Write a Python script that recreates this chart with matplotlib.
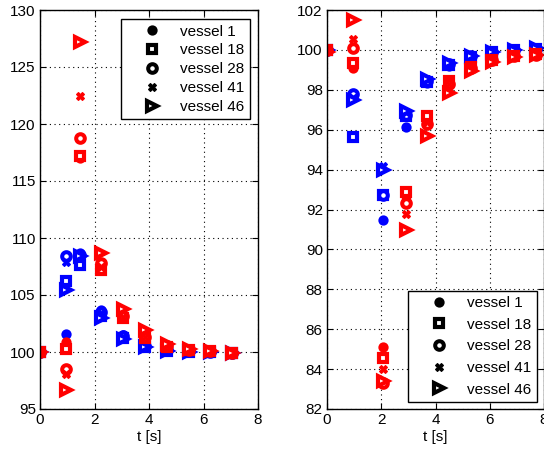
import matplotlib
matplotlib.use("Agg")
import matplotlib.pyplot as plt
from matplotlib.lines import Line2D

plt.rcParams['font.family'] = ['Liberation Sans', 'DejaVu Sans']
plt.rcParams['font.size'] = 11

vessels = ["vessel 1", "vessel 18", "vessel 28", "vessel 41", "vessel 46"]

# ---- left panel ----
t_left = [0.0, 0.95, 1.45, 2.25, 3.05, 3.85, 4.65, 5.45, 6.25, 7.05]
left_blue = {
    "vessel 1":  [100, 101.6, 108.7, 103.7, 101.5, 100.6, 100.2, 100.05, 100.0, 99.95],
    "vessel 18": [100, 106.2, 107.6, 103.2, 101.2, 100.4, 100.1, 100.0, 99.97, 99.95],
    "vessel 28": [100, 108.4, 108.5, 103.5, 101.4, 100.5, 100.2, 100.05, 100.0, 99.95],
    "vessel 41": [100, 107.9, 108.3, 103.4, 101.3, 100.5, 100.15, 100.0, 100.0, 99.95],
    "vessel 46": [100, 105.4, 108.4, 103.0, 101.1, 100.4, 100.1, 100.0, 99.97, 99.95],
}
left_red = {
    "vessel 1":  [100, 100.9, 117.0, 107.6, 103.1, 101.2, 100.45, 100.2, 100.05, 99.95],
    "vessel 18": [100, 100.25, 117.2, 107.2, 103.0, 101.2, 100.45, 100.2, 100.05, 99.95],
    "vessel 28": [100, 98.5, 118.8, 107.8, 103.2, 101.3, 100.5, 100.2, 100.05, 99.95],
    "vessel 41": [100, 98.1, 122.5, 107.5, 103.1, 101.3, 100.5, 100.2, 100.05, 99.95],
    "vessel 46": [100, 96.7, 127.2, 108.7, 103.8, 101.9, 100.7, 100.25, 100.05, 99.95],
}

# ---- right panel ----
t_right = [0.0, 0.95, 2.05, 2.9, 3.7, 4.5, 5.3, 6.1, 6.9, 7.7]
right_blue = {
    "vessel 1":  [100, 97.75, 91.47, 96.12, 98.35, 99.2, 99.65, 99.85, 99.95, 100.05],
    "vessel 18": [100, 95.65, 92.75, 96.7, 98.4, 99.25, 99.65, 99.87, 99.97, 100.05],
    "vessel 28": [100, 97.8, 92.75, 96.75, 98.45, 99.3, 99.7, 99.88, 99.98, 100.06],
    "vessel 41": [100, 97.6, 94.2, 96.9, 98.55, 99.35, 99.7, 99.9, 100.0, 100.07],
    "vessel 46": [100, 97.5, 94.0, 96.95, 98.55, 99.35, 99.7, 99.9, 100.0, 100.08],
}
right_red = {
    "vessel 1":  [100, 99.1, 85.1, 92.7, 96.6, 98.5, 99.2, 99.55, 99.72, 99.8],
    "vessel 18": [100, 99.35, 84.55, 92.9, 96.7, 98.45, 99.15, 99.5, 99.7, 99.78],
    "vessel 28": [100, 100.1, 83.3, 92.35, 96.3, 98.3, 99.1, 99.5, 99.68, 99.76],
    "vessel 41": [100, 100.55, 84.0, 91.75, 96.4, 98.3, 99.1, 99.5, 99.68, 99.76],
    "vessel 46": [99.9, 101.5, 83.4, 90.95, 95.7, 97.85, 98.95, 99.4, 99.62, 99.72],
}

# marker style per vessel: (marker, filled, size, edge width)
styles = {
    "vessel 1":  dict(marker="o", fill=True, ms=5.6, mew=1.8),
    "vessel 18": dict(marker="s", fill=False, ms=5.2, mew=3.0),
    "vessel 28": dict(marker="o", fill=False, ms=6.2, mew=2.9),
    "vessel 41": dict(marker="X", fill=True, ms=6.0, mew=0.8),
    "vessel 46": dict(marker=">", fill=False, ms=7.8, mew=3.0),
}


def draw(ax, t, series, color):
    for v in vessels:
        st = styles[v]
        ax.plot(t, series[v], linestyle="none", marker=st["marker"], ms=st["ms"],
                mew=st["mew"], mec=color,
                mfc=color if st["fill"] else "white")


def legend_handles():
    hs = []
    for v in vessels:
        st = styles[v]
        hs.append(Line2D([], [], linestyle="none", marker=st["marker"], ms=st["ms"],
                         mew=st["mew"], mec="black",
                         mfc="black" if st["fill"] else "white", label=v))
    return hs


def style_axes(ax, ylim, yticks):
    ax.set_xlim(0, 8)
    ax.set_xticks([0, 2, 4, 6, 8])
    ax.set_ylim(*ylim)
    ax.set_yticks(yticks)
    ax.grid(True, linestyle=(0, (1, 3.2)), color="black", linewidth=0.8)
    ax.tick_params(direction="in", top=True, right=True, length=4, width=0.8,
                   labelsize=11, pad=3)
    for s in ax.spines.values():
        s.set_linewidth(1.0)
    ax.set_xlabel("t [s]", fontsize=11, labelpad=2)


fig = plt.figure(figsize=(5.44, 4.54), dpi=100)
W, H = 544, 454
axL = fig.add_axes([40 / W, (H - 409) / H, 218 / W, 399 / H])
axR = fig.add_axes([327 / W, (H - 409) / H, 217 / W, 399 / H])

draw(axL, t_left, left_blue, "blue")
draw(axL, t_left, left_red, "red")
style_axes(axL, (95, 130), list(range(95, 131, 5)))

draw(axR, t_right, right_blue, "blue")
draw(axR, t_right, right_red, "red")
style_axes(axR, (82, 102), list(range(82, 103, 2)))

common = dict(fontsize=11, frameon=True, fancybox=False, edgecolor="black",
              framealpha=1, handlelength=3.4, handletextpad=0.15,
              borderpad=0.35, numpoints=1, borderaxespad=0)
legL = axL.legend(handles=legend_handles(), loc="upper right",
                  bbox_to_anchor=(0.963, 0.977), labelspacing=0.32, **common)
legR = axR.legend(handles=legend_handles(), loc="lower right",
                  bbox_to_anchor=(0.968, 0.0175), labelspacing=0.5, **common)
for leg in (legL, legR):
    leg.get_frame().set_linewidth(1.0)

fig.savefig("out.png", dpi=100)
